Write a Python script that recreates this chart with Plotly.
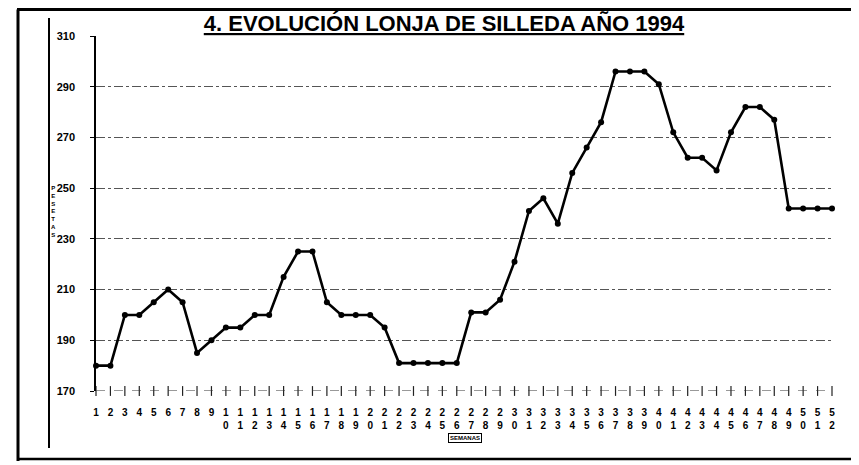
import plotly.graph_objects as go

weeks = list(range(1, 53))
week_labels = ["<br>".join(list(str(w))) for w in weeks]
prices = [180, 180, 200, 200, 205, 210, 205, 185, 190, 195,
          195, 200, 200, 215, 225, 225, 205, 200, 200, 200,
          195, 181, 181, 181, 181, 181, 201, 201, 206, 221,
          241, 246, 236, 256, 266, 276, 296, 296, 296, 291,
          272, 262, 262, 257, 272, 282, 282, 277, 242, 242,
          242, 242]
y_ticks = [170, 190, 210, 230, 250, 270, 290, 310]
title_text = "4. EVOLUCIÓN LONJA DE SILLEDA AÑO 1994"
y_title = "PESETAS"
x_title = "SEMANAS"

# page has an 8px body margin: the figure origin sits at page (8, 8)
OFF = 8
W, H = 859 - OFF, 465 - OFF
L, R, T, B = 96 - OFF, 859 - 832, 36 - OFF, 465 - 391
pw, ph = W - L - R, H - T - B

def px(x):  # page x -> paper x
    return (x - OFF - L) / pw

def py(y):  # page y -> paper y
    return (H - B - (y - OFF)) / ph

fig = go.Figure()

# baseline tick crosses
fig.add_trace(go.Scatter(
    x=weeks, y=[y_ticks[0]] * len(weeks), mode="markers",
    marker=dict(symbol="line-ns-open", size=7, color="#222",
                line=dict(width=1.2, color="#222")),
    hoverinfo="skip", showlegend=False, cliponaxis=False))

fig.add_trace(go.Scatter(
    x=weeks, y=prices, mode="lines+markers",
    line=dict(color="black", width=2.6),
    marker=dict(symbol="circle", size=6, color="black"),
    showlegend=False, cliponaxis=False))

font_fam = "Liberation Sans, Arial, sans-serif"

fig.update_layout(
    width=W, height=H,
    margin=dict(l=L, r=R, t=T, b=B),
    paper_bgcolor="white", plot_bgcolor="white",
    title=dict(text="<b><u>" + title_text + "</u></b>",
               x=(444 - OFF) / W, xanchor="center", y=1 - 23 / H, yanchor="bottom",
               font=dict(family="Liberation Sans Narrow, Arial Narrow, Liberation Sans, sans-serif",
                         size=22, color="black")),
    xaxis=dict(range=[1, 52], tickvals=weeks, ticktext=["<b>" + t + "</b>" for t in week_labels],
               tickangle=0, showgrid=False, zeroline=False, showline=False, ticks="",
               ticklabelstandoff=14,
               tickfont=dict(family=font_fam, size=10, color="black")),
    yaxis=dict(range=[170, 310], tickvals=y_ticks, ticktext=["<b>%d</b>" % v for v in y_ticks],
               showgrid=True, gridcolor="#555", griddash="dashdot", gridwidth=1,
               zeroline=False, showline=True, linecolor="black", linewidth=1.6,
               ticks="outside", ticklen=4, tickcolor="black",
               ticklabelstandoff=13,
               tickfont=dict(family=font_fam, size=11, color="black")),
)

shapes = [
    # dashed baseline
    dict(type="line", xref="paper", yref="y", x0=0, x1=1, y0=y_ticks[0], y1=y_ticks[0],
         line=dict(color="#333", width=1, dash="dash")),
    # outer frame
    dict(type="line", xref="paper", yref="paper", x0=px(18), x1=px(18), y0=py(9.5), y1=py(461),
         line=dict(color="black", width=3)),
    dict(type="line", xref="paper", yref="paper", x0=px(17), x1=px(859), y0=py(9.5), y1=py(9.5),
         line=dict(color="black", width=3)),
    dict(type="line", xref="paper", yref="paper", x0=px(17), x1=px(859), y0=py(459), y1=py(459),
         line=dict(color="black", width=2.5)),
    # inner vertical rule
    dict(type="line", xref="paper", yref="paper", x0=px(49), x1=px(49), y0=py(18), y1=py(448),
         line=dict(color="black", width=2)),
]
fig.update_layout(shapes=shapes)

fig.add_annotation(text="<b>" + "<br>".join(list(y_title)) + "</b>",
                   xref="paper", yref="paper", x=px(53), y=py(211),
                   xanchor="center", yanchor="middle", showarrow=False,
                   font=dict(family=font_fam, size=6, color="black"))
fig.add_annotation(text="<b>" + x_title + "</b>",
                   xref="paper", yref="paper", x=px(465), y=py(438),
                   xanchor="center", yanchor="middle", showarrow=False,
                   bordercolor="black", borderwidth=1, borderpad=1,
                   font=dict(family=font_fam, size=6, color="black"))

fig.write_html("out.html")
